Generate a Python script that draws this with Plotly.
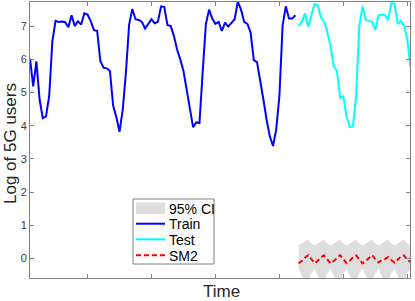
import plotly.graph_objects as go

# hourly index
train_t = list(range(0, 84))
train_y = [6.02, 5.19, 5.94, 4.79, 4.23, 4.28, 4.89, 6.55, 7.16, 7.13,
           7.14, 7.12, 6.97, 7.33, 7.01, 7.15, 7.05, 7.39, 7.35, 7.15,
           6.88, 6.86, 5.95, 5.75, 5.73, 5.65, 4.61, 4.26, 3.82, 4.48,
           5.60, 7.05, 7.52, 7.21, 7.19, 7.13, 6.93, 7.09, 7.21, 7.09,
           7.13, 7.60, 7.58, 7.03, 7.01, 6.71, 6.30, 6.00, 5.65, 5.09,
           4.48, 3.96, 4.10, 4.08, 5.60, 7.06, 7.50, 7.23, 7.07, 7.13,
           6.86, 7.11, 6.99, 7.11, 7.21, 7.74, 7.50, 7.13, 7.07, 6.81,
           5.98, 5.92, 5.39, 4.79, 4.18, 3.68, 3.39, 3.88, 4.89, 7.01,
           7.60, 7.23, 7.23, 7.33]
test_t = list(range(84, 120))
test_y = [7.01, 7.13, 7.39, 6.99, 7.33, 7.67, 7.64, 7.26, 7.13, 6.81,
          6.40, 5.80, 5.65, 4.84, 4.89, 4.28, 3.96, 3.98, 4.89, 7.01,
          7.60, 7.19, 7.16, 7.13, 6.89, 7.33, 7.35, 7.33, 7.19, 7.70,
          7.68, 7.07, 7.15, 7.01, 6.61, 5.75]
sm2_y = [-0.15, -0.08, 0.02, 0.10, -0.02, -0.14, -0.07, 0.03, 0.09, -0.03,
         -0.15, -0.08, 0.02, 0.10, -0.02, -0.14, -0.07, 0.03, 0.09, -0.03,
         -0.15, -0.08, 0.02, 0.10, -0.02, -0.12, -0.05, -0.02, 0.04, -0.06,
         -0.13, -0.04, 0.06, 0.09, -0.05, -0.10]
ci_upper = [0.40, 0.45, 0.50, 0.57, 0.45, 0.40, 0.45, 0.50, 0.57, 0.45,
            0.40, 0.45, 0.50, 0.57, 0.45, 0.40, 0.45, 0.50, 0.57, 0.45,
            0.40, 0.45, 0.50, 0.57, 0.45, 0.40, 0.45, 0.50, 0.57, 0.45,
            0.40, 0.45, 0.50, 0.57, 0.45, 0.40]
ci_lower = [-0.30, -0.50, -0.75, -0.70, -0.45, -0.30, -0.50, -0.75, -0.70, -0.45,
            -0.30, -0.50, -0.75, -0.70, -0.45, -0.30, -0.50, -0.75, -0.70, -0.45,
            -0.30, -0.50, -0.75, -0.70, -0.45, -0.30, -0.50, -0.75, -0.70, -0.45,
            -0.30, -0.50, -0.75, -0.70, -0.45, -0.30]

legend_labels = ["95% CI", "Train", "Test", "SM2"]
x_ticks = [18, 38, 58, 78, 98, 118]
y_ticks = [0, 1, 2, 3, 4, 5, 6, 7]

CI_COLOR = "rgb(222,222,222)"
TRAIN_COLOR = "#0000ff"
TEST_COLOR = "#00ffff"
SM2_COLOR = "#ff0000"
SM2_DASH = "5px,3px"
AX_COLOR = "#808080"
FONT = "Liberation Sans, Arial, Helvetica, sans-serif"

# plot-area geometry in pixels (for placing the hand-drawn legend and titles)
W, H = 415, 301
ML, MR, MT, MB = 30, 5, 2, 23
PW, PH = W - ML - MR, H - MT - MB


def px2x(px):
    return (px - ML) / PW


def px2y(py):
    return (H - MB - py) / PH


fig = go.Figure()
fig.add_trace(go.Scatter(x=test_t, y=ci_lower, mode="lines", line=dict(width=0),
                         showlegend=False, hoverinfo="skip"))
fig.add_trace(go.Scatter(x=test_t, y=ci_upper, mode="lines", line=dict(width=0),
                         fill="tonexty", fillcolor=CI_COLOR, showlegend=False))
fig.add_trace(go.Scatter(x=train_t, y=train_y, mode="lines",
                         line=dict(color=TRAIN_COLOR, width=2), showlegend=False))
fig.add_trace(go.Scatter(x=test_t, y=test_y, mode="lines",
                         line=dict(color=TEST_COLOR, width=2), showlegend=False))
fig.add_trace(go.Scatter(x=test_t, y=sm2_y, mode="lines",
                         line=dict(color=SM2_COLOR, width=2, dash=SM2_DASH), showlegend=False))

axis_common = dict(showline=True, linecolor=AX_COLOR, linewidth=1, mirror="ticks",
                   ticks="inside", ticklen=4, tickcolor=AX_COLOR, showgrid=False,
                   zeroline=False)
fig.update_xaxes(range=[0, 118.85], tickvals=x_ticks, showticklabels=False, **axis_common)
fig.update_yaxes(range=[-0.59, 7.73], tickvals=y_ticks,
                 tickfont=dict(size=11, color="#404040"), **axis_common)

# legend (MATLAB-style box)
shapes = [
    dict(type="rect", xref="paper", yref="paper", x0=px2x(133), x1=px2x(214),
         y0=px2y(264), y1=px2y(199), fillcolor="white",
         line=dict(color=AX_COLOR, width=1), layer="above"),
    dict(type="rect", xref="paper", yref="paper", x0=px2x(136), x1=px2x(165),
         y0=px2y(214), y1=px2y(202.5), fillcolor=CI_COLOR, line=dict(width=0), layer="above"),
]
sample_styles = [(TRAIN_COLOR, "solid"), (TEST_COLOR, "solid"), (SM2_COLOR, SM2_DASH)]
sample_y = [223.7, 239.3, 255.3]
for (col, dash), py in zip(sample_styles, sample_y):
    shapes.append(dict(type="line", xref="paper", yref="paper", x0=px2x(136), x1=px2x(165),
                       y0=px2y(py), y1=px2y(py), line=dict(color=col, width=2, dash=dash),
                       layer="above"))

annotations = []
text_y = [208.5, 224, 240, 256]
for lab, py in zip(legend_labels, text_y):
    annotations.append(dict(text=lab, xref="paper", yref="paper", x=px2x(166.5), y=px2y(py),
                            xanchor="left", yanchor="middle", showarrow=False,
                            font=dict(size=14, color="#000000", family=FONT)))
annotations.append(dict(text="Time", xref="paper", yref="paper", x=px2x(221), y=px2y(291.5),
                        xanchor="center", yanchor="middle", showarrow=False,
                        font=dict(size=17, color="#262626", family=FONT)))
annotations.append(dict(text="Log of 5G users", xref="paper", yref="paper", x=px2x(10.5),
                        y=px2y(143.5), xanchor="center", yanchor="middle", textangle=-90,
                        showarrow=False, font=dict(size=17, color="#262626", family=FONT)))

fig.update_layout(
    width=W, height=H,
    margin=dict(l=ML, r=MR, t=MT, b=MB),
    plot_bgcolor="white", paper_bgcolor="white",
    font=dict(family=FONT),
    showlegend=False,
    shapes=shapes,
    annotations=annotations,
)
fig.write_html("out.html", config={"displayModeBar": False},
               post_script="document.body.style.margin='0';")
